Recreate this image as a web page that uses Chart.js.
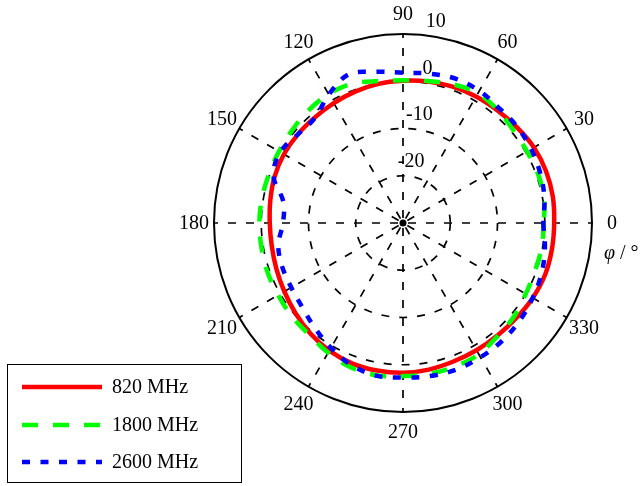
<!DOCTYPE html>
<html>
<head>
<meta charset="utf-8">
<script src="https://cdn.jsdelivr.net/npm/chart.js@4/dist/chart.umd.min.js"></script>
<style>
html,body{margin:0;padding:0;background:#fff;}
#wrap{position:relative;width:643px;height:486px;overflow:hidden;}
</style>
</head>
<body>
<div id="wrap"><canvas id="c" width="643" height="486"></canvas></div>
<script>
// ---- data (angle in degrees, counter-clockwise from east; gain in dB) ----
const angles = [0,10,20,30,40,50,60,70,80,90,100,110,120,130,140,150,160,170,
                180,190,200,210,220,230,240,250,260,270,280,290,300,310,320,330,340,350];
const mhz820  = [2.0,2.2,2.2,2.0,1.5,1.1,0.9,0.7,0.4,0.1,-0.1,-0.4,-0.7,-0.9,-0.9,-0.9,-1.1,-1.5,
                 -1.8,-1.8,-1.5,-1.0,-0.3,0.5,1.2,1.6,1.7,1.7,1.5,1.2,1.1,1.1,1.3,1.7,2.0,2.0];
const mhz1800 = [-0.2,0.3,0.4,0.3,0.5,1.2,1.7,1.2,0.5,0.2,0.5,1.4,1.5,1.1,0.6,0.3,0.2,0.3,
                 0.4,0.4,0.5,0.5,0.7,0.9,1.7,2.5,2.7,2.4,2.4,2.3,2.1,1.2,0.7,0.0,-0.3,-0.2];
const mhz2600 = [-0.3,0.4,0.9,1.3,1.6,1.7,2.3,2.5,2.1,1.8,2.5,3.5,1.4,-1.0,-0.9,0.0,-0.8,-4.3,
                 -4.6,-3.2,-2.8,-2.7,-2.2,-1.0,0.5,2.0,2.8,2.7,2.9,3.0,2.8,2.6,2.2,1.7,1.2,0.5];
const seriesNames = ['820 MHz','1800 MHz','2600 MHz'];
const angleTicks  = [0,30,60,90,120,150,180,210,240,270,300,330];
const radialTicks = [-20,-10,0,10];
const rMin = -30, rMax = 10, rStep = 10;
const axisSymbol = 'φ';
const axisUnit = ' / °';

// Chart.js radar runs clockwise: radar slot i sits at angle (360 - 10*i) mod 360.
const angleStep = angles[1] - angles[0];
const radarAngles = angles.map((a, i) => (360 - i * angleStep) % 360);
const toRadar = vals => radarAngles.map(a => vals[angles.indexOf(a)]);

const FONT = '"Liberation Serif", "Times New Roman", serif';
const colors = ['#ff0000', '#00ff00', '#0000ff'];
const dashes = [[], [16, 15], [8, 10.5]];

const originDot = {
  id: 'originDot',
  beforeDatasetsDraw(chart) {
    const s = chart.scales.r, c = chart.ctx;
    c.save();
    c.fillStyle = '#000';
    c.beginPath();
    c.arc(s.xCenter, s.yCenter, 3.5, 0, Math.PI * 2);
    c.fill();
    c.restore();
  }
};

const textPlugin = {
  id: 'polarText',
  afterDraw(chart) {
    const s = chart.scales.r, c = chart.ctx;
    c.save();
    c.fillStyle = '#000';
    c.font = '20px ' + FONT;
    c.textAlign = 'center';
    c.textBaseline = 'middle';
    const outer = s.getDistanceFromCenterForValue(rMax);
    angleTicks.forEach(a => {
      const p = s.getPointPosition(radarAngles.indexOf(a), outer + 20);
      c.fillText(String(a), p.x, p.y + 1);
    });
    const t = 80 * Math.PI / 180;
    radialTicks.forEach(v => {
      const d = s.getDistanceFromCenterForValue(v);
      c.fillText(String(v), s.xCenter + d * Math.cos(t), s.yCenter - d * Math.sin(t) - 15);
    });
    // axis label
    c.textAlign = 'left';
    c.textBaseline = 'alphabetic';
    c.font = 'italic 20px ' + FONT;
    c.fillText(axisSymbol, 604, 259);
    const w = c.measureText(axisSymbol).width;
    c.font = '20px ' + FONT;
    c.fillText(axisUnit, 604 + w, 259);
    // legend
    c.fillStyle = '#fff';
    c.fillRect(7, 364, 234, 118);
    c.strokeStyle = '#000';
    c.lineWidth = 1;
    c.strokeRect(7.5, 364.5, 234, 118);
    const rows = [387, 425, 462];
    chart.data.datasets.forEach((ds, k) => {
      const y = rows[k];
      c.save();
      c.strokeStyle = ds.borderColor;
      c.lineWidth = ds.borderWidth;
      c.setLineDash(ds.borderDash);
      c.lineCap = 'butt';
      c.beginPath();
      c.moveTo(22, y);
      c.lineTo(102, y);
      c.stroke();
      c.restore();
      c.fillStyle = '#000';
      c.textBaseline = 'middle';
      c.fillText(ds.label, 112, y + 1);
    });
    c.restore();
  }
};

const seriesData = [mhz820, mhz1800, mhz2600];
new Chart(document.getElementById('c'), {
  type: 'radar',
  data: {
    labels: radarAngles.map(String),
    datasets: seriesData.map((vals, k) => ({
      label: seriesNames[k],
      data: toRadar(vals),
      borderColor: colors[k],
      backgroundColor: colors[k],
      borderWidth: 4.5,
      borderDash: dashes[k],
      fill: false,
      order: 3 - k
    }))
  },
  options: {
    responsive: false,
    animation: false,
    devicePixelRatio: 1,
    layout: { padding: { left: 214, right: 51, top: 34, bottom: 74 } },
    plugins: { legend: { display: false }, tooltip: { enabled: false } },
    elements: {
      point: { radius: 0, hoverRadius: 0 },
      line: { tension: 0.35, borderCapStyle: 'butt', borderJoinStyle: 'round' }
    },
    scales: {
      r: {
        min: rMin, max: rMax, startAngle: 90,
        ticks: { display: false, stepSize: rStep },
        pointLabels: { display: false },
        grid: {
          circular: true,
          color: '#000',
          lineWidth: c => (c.tick && c.tick.value === rMax) ? 2 : 1.7,
          borderDash: c => (c.tick && c.tick.value === rMax) ? [] : [8, 10]
        },
        border: {
          dash: c => (c.tick && c.tick.value === rMax) ? [] : [8, 10]
        },
        angleLines: {
          display: true,
          color: '#000',
          lineWidth: c => angleTicks.includes(radarAngles[c.index]) ? 1.7 : 0,
          borderDash: [8, 10],
          borderDashOffset: 13
        }
      }
    }
  },
  plugins: [originDot, textPlugin]
});
</script>
</body>
</html>
